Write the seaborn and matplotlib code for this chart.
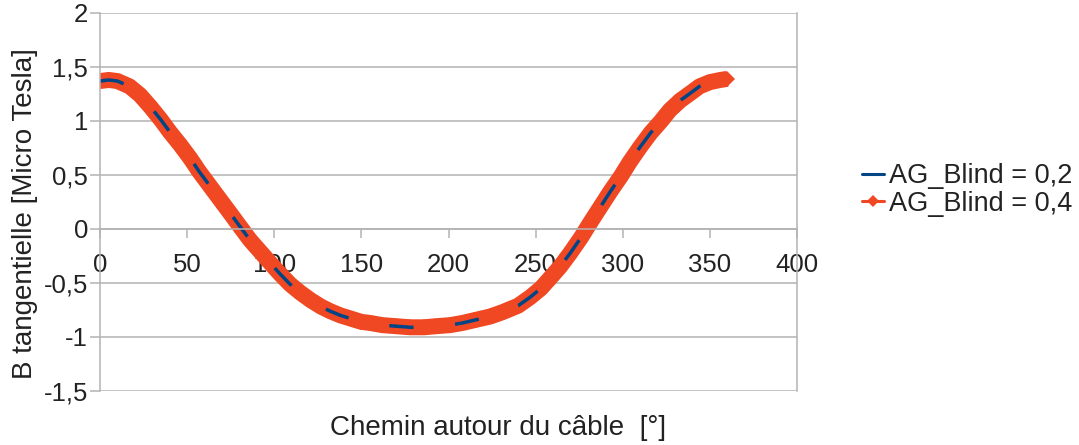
import matplotlib
matplotlib.use('Agg')
import matplotlib.pyplot as plt
from matplotlib.lines import Line2D
from matplotlib.ticker import FuncFormatter
import numpy as np
import pandas as pd
import seaborn as sns

# values (angle in degrees, B in micro tesla)
angle = [0, 5, 10, 17, 23, 29, 35, 40, 46, 52, 57, 63, 69, 75, 80, 86, 92, 98,
         103, 109, 115, 121, 127, 132, 138, 144, 150, 155, 162, 170, 178, 186,
         193, 201, 208, 216, 224, 231, 240, 247, 253, 258, 264, 270, 276, 281,
         287, 293, 299, 304, 310, 316, 322, 327, 333, 339, 344, 350, 356, 360]
b_blind_02 = [1.37, 1.38, 1.37, 1.32, 1.24, 1.13, 1.01, 0.90, 0.78, 0.65, 0.53,
              0.40, 0.27, 0.14, 0.03, -0.10, -0.21, -0.32, -0.41, -0.51, -0.59,
              -0.66, -0.72, -0.76, -0.80, -0.83, -0.86, -0.87, -0.89, -0.90,
              -0.91, -0.91, -0.90, -0.89, -0.87, -0.84, -0.81, -0.77, -0.71,
              -0.63, -0.55, -0.46, -0.35, -0.22, -0.08, 0.05, 0.20, 0.35, 0.49,
              0.62, 0.76, 0.89, 1.00, 1.10, 1.19, 1.26, 1.32, 1.36, 1.38, 1.39]
# the 0.4 series lies right on top of the 0.2 one
b_blind_04 = list(b_blind_02)

series_labels = ['AG_Blind = 0,2', 'AG_Blind = 0,4']
x_ticks = [0, 50, 100, 150, 200, 250, 300, 350, 400]
y_ticks = [-1.5, -1, -0.5, 0, 0.5, 1, 1.5, 2]

df = pd.DataFrame({'angle': angle, 'b02': b_blind_02, 'b04': b_blind_04})

blue = '#004586'
orange = '#f04823'
grey = '#b3b3b3'
text_col = '#222222'

sns.set_style('white')
plt.rcParams['font.family'] = ['Liberation Sans', 'DejaVu Sans']
plt.rcParams['text.color'] = text_col

fig = plt.figure(figsize=(10.79, 4.45), dpi=100)
ax = fig.add_axes([100 / 1079, 1 - 391 / 445, 697 / 1079, 378 / 445])

# orange series: dense diamonds form a thick band
sns.lineplot(data=df, x='angle', y='b04', ax=ax, color=orange, linewidth=11.5,
             marker='D', markersize=8, markeredgewidth=0, sort=False,
             estimator=None, legend=False, solid_capstyle='butt',
             solid_joinstyle='round')
# blue series peeks through in short patches
sns.lineplot(data=df, x='angle', y='b02', ax=ax, color=blue, linewidth=2.5,
             linestyle=(0, (7, 12)), sort=False, estimator=None, legend=False)

ax.set_xlim(0, 400)
ax.set_ylim(-1.5, 2)
ax.set_xticks(x_ticks)
ax.set_yticks(y_ticks)
comma = FuncFormatter(lambda v, p: f'{v:g}'.replace('.', ','))
ax.xaxis.set_major_formatter(comma)
ax.yaxis.set_major_formatter(comma)

ax.yaxis.grid(True, color=grey, linewidth=1.1)
ax.xaxis.grid(False)
ax.spines['bottom'].set_position(('data', 0))
ax.spines['top'].set_visible(False)
for s in ['bottom', 'left', 'right']:
    ax.spines[s].set_color(grey)
    ax.spines[s].set_linewidth(1.1)

ax.tick_params(axis='x', direction='out', length=6.5, width=1.1, color=grey,
               pad=10.5, labelsize=18.5, labelcolor=text_col, bottom=True)
ax.tick_params(axis='y', direction='out', length=7, width=1.1, color=grey,
               pad=1.5, labelsize=18.5, labelcolor=text_col, left=True)
ax.set_xlabel('')
ax.set_ylabel('')

fig.text(498 / 1079, 1 - 428 / 445, 'Chemin autour du câble  [°]',
         ha='center', va='center', fontsize=20, color=text_col)
fig.text(25 / 1079, 1 - 214 / 445, 'B tangentielle [Micro Tesla]',
         ha='center', va='center', rotation=90, fontsize=20, color=text_col)

handles = [Line2D([], [], color=blue, linewidth=2.2),
           Line2D([], [], color=orange, linewidth=2.2, marker='D',
                  markersize=6, markeredgewidth=0)]
fig.legend(handles, series_labels, loc='center left',
           bbox_to_anchor=(862 / 1079, 1 - 190 / 445), frameon=False,
           fontsize=19.5, handlelength=0.8, handletextpad=0.2,
           labelspacing=0.05, borderpad=0, borderaxespad=0)

fig.savefig('out.png', dpi=100)
